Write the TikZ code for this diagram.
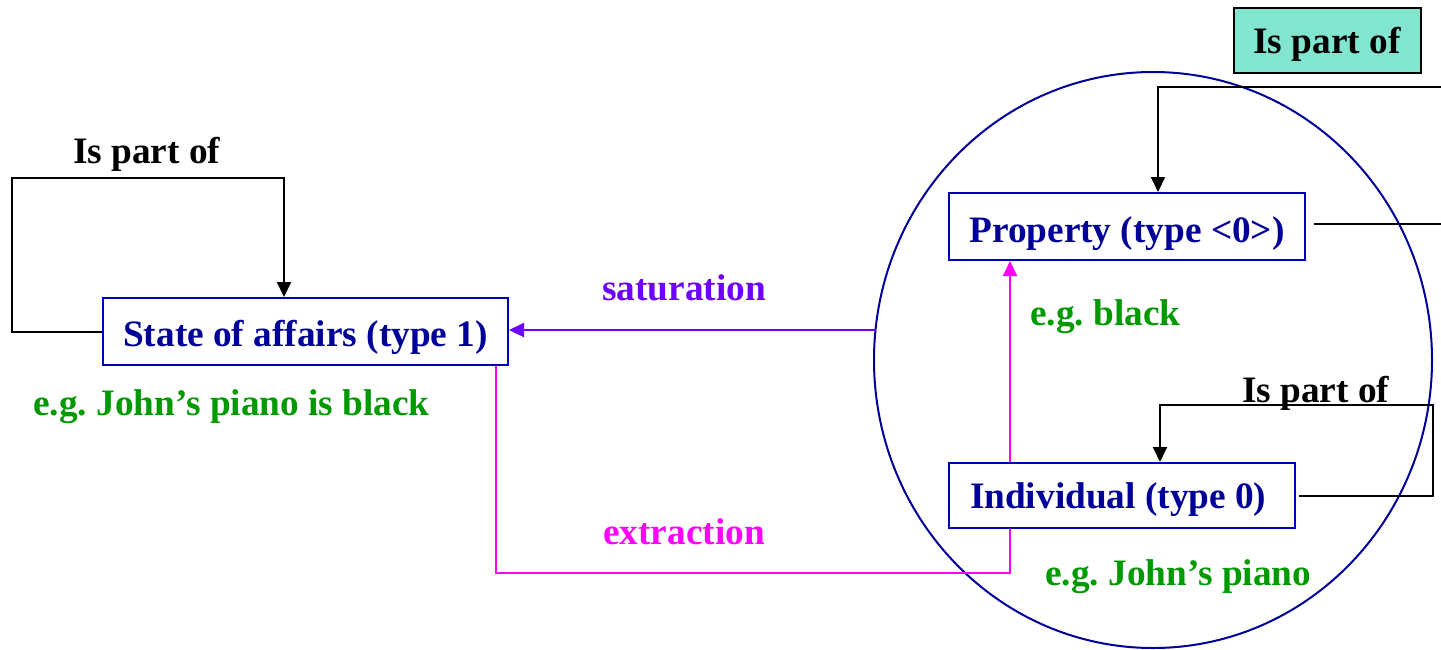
\documentclass[tikz,border=0pt]{standalone}
\usepackage{fontspec}
\setmainfont{Liberation Serif}
\usetikzlibrary{arrows.meta,shapes.geometric}
\frenchspacing
\definecolor{navy}{RGB}{0,0,153}
\definecolor{boxblue}{RGB}{0,0,190}
\definecolor{egreen}{RGB}{0,153,0}
\definecolor{satviolet}{RGB}{110,0,255}
\definecolor{extmag}{RGB}{255,0,255}
\definecolor{teal}{RGB}{130,229,208}
\tikzset{
  txt/.style={font=\bfseries\fontsize{37.3}{40}\selectfont, inner sep=0pt, anchor=base west},
  typebox/.style={draw=boxblue, line width=2pt, fill=white, text=navy,
    font=\bfseries\fontsize{37.3}{40}\selectfont, inner sep=0pt},
  link/.style={line width=2pt, draw=black},
  tip/.style={-{Triangle[length=15pt,width=14pt]}},
}
\begin{document}
\begin{tikzpicture}[x=1pt,y=-1pt]
\useasboundingbox (0,0) rectangle (1441,649);
% circle
\node[ellipse, draw=navy, line width=2pt, minimum width=558pt, minimum height=576pt, inner sep=0pt] (circ) at (1153,360) {};
% boxes
\node[typebox, minimum width=405pt, minimum height=67pt, text height=29pt, text depth=0pt] (state) at (305.5,331.5) {State of affairs (type 1)};
\node[typebox, minimum width=356pt, minimum height=67pt, text height=31pt, text depth=0pt] (prop) at (1127,226.5) {Property (type <0>)};
\node[typebox, minimum height=65pt, inner xsep=21pt, text width=304pt, align=flush left, text height=28pt, text depth=3pt] (ind) at (1122,495.5) {Individual (type 0)};
\node[draw=black, line width=2pt, fill=teal, minimum width=187pt, minimum height=65pt, inner sep=0pt,
  text height=28pt, text depth=3pt, font=\bfseries\fontsize{37.3}{40}\selectfont] (ipo) at (1327,40.5) {Is part of};
% labels
\node[txt] (lipo) at (73,163) {Is part of};
\node[txt, text=satviolet] (lsat) at (602,300) {saturation};
\node[txt, text=extmag] (lext) at (603,544) {extraction};
\node[txt, text=egreen] (lex1) at (33,415) {e.g. John’s piano is black};
\node[txt, text=egreen] (lex2) at (1030,325) {e.g. black};
\node[txt, text=egreen] (lex3) at (1045,585) {e.g. John’s piano};
\node[txt] (ripo) at (1242,402) {Is part of};
% coordinates
\coordinate (lcorner) at (12,178);
\coordinate (satstart) at (875.5,330);
\coordinate (topright) at (1441,87);
\coordinate (propright) at (1441,224);
\coordinate (rcorner) at (1433,405);
% left loop
\draw[link, tip] (state.west) -| (lcorner) -| ([xshift=-21.5pt]state.north);
% saturation
\draw[link, draw=satviolet, tip] (satstart) -- (state.east |- satstart);
% extraction
\draw[link, draw=extmag] ([xshift=190.5pt]state.south) -- ++(0,207) -| ([xshift=-112pt]ind.south);
\draw[link, draw=extmag, tip] ([xshift=-112pt]ind.north) -- ([xshift=-117pt]prop.south);
% top loop
\draw[link, tip] (topright) -| ([xshift=31pt]prop.north);
\draw[link] ([xshift=8pt]prop.east |- propright) -- (propright);
% individual loop
\draw[link, tip] ([xshift=3pt]ind.east) -| (rcorner) -| ([xshift=38pt]ind.north);
\end{tikzpicture}
\end{document}
